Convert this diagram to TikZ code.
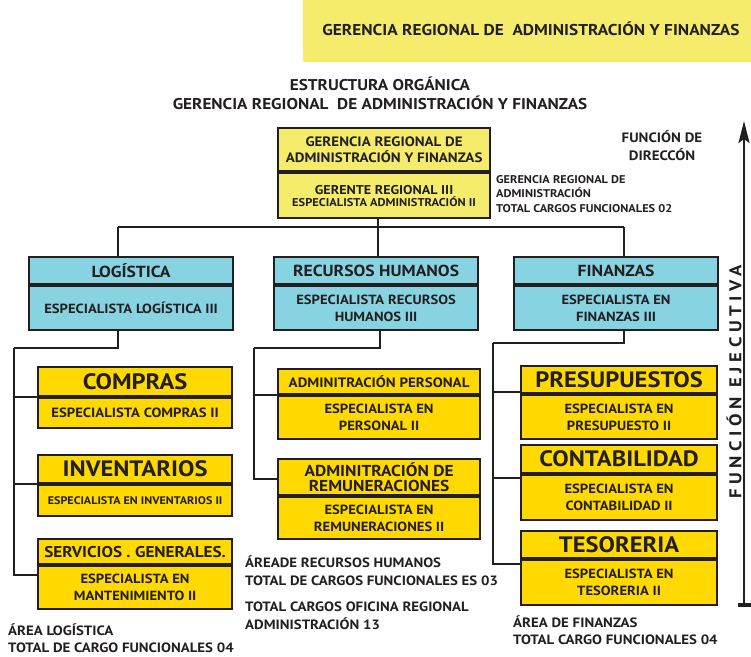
\documentclass[tikz,border=0pt]{standalone}
\usepackage{fontspec}
\setmainfont{PT Sans}[FakeStretch=1.1]
\usetikzlibrary{calc,arrows.meta}
\definecolor{banner}{HTML}{F5EC6C}
\definecolor{sky}{HTML}{88D3E1}
\definecolor{gold}{HTML}{FFD900}
\definecolor{ink}{HTML}{231F20}
\newcommand{\tsz}[2]{\fontsize{#1}{#2}\selectfont}
\tikzset{
  box/.style={draw=ink, line width=2.2pt, inner sep=0pt, anchor=north west,
              align=center, text=ink},
  skybox/.style={box, fill=sky},
  goldbox/.style={box, fill=gold},
  topbox/.style={box, fill=banner},
  conn/.style={draw=ink, line width=1.8pt},
  note/.style={anchor=north west, align=left, inner sep=0pt, text=ink},
}
\begin{document}
\begin{tikzpicture}[x=1pt,y=-1pt]
\useasboundingbox (0,0) rectangle (751,656);

% banner and title
\fill[banner] (303,0) rectangle (751,62);
\node[text=ink, font=\bfseries\tsz{15.7}{17}] (banner) at (531,29)
  {GERENCIA REGIONAL DE \ ADMINISTRACIÓN Y FINANZAS};
\node[text=ink, align=center, font=\bfseries\tsz{15.6}{19}] (title) at (380,93)
  {ESTRUCTURA ORGÁNICA\\GERENCIA REGIONAL \ DE ADMINISTRACIÓN Y FINANZAS};

% head office
\node[topbox, minimum width=212pt, minimum height=43pt, font=\bfseries\tsz{13.6}{16}] (topH) at (277,127)
  {GERENCIA REGIONAL DE\\ADMINISTRACIÓN Y FINANZAS};
\node[topbox, minimum width=212pt, minimum height=45pt] (topB) at (topH.south west)
  {{\bfseries\tsz{12.8}{16}GERENTE REGIONAL III}\\{\bfseries\tsz{11.3}{16}ESPECIALISTA ADMINISTRACIÓN II}};

\node[note, font=\bfseries\tsz{11.2}{14.5}] (headNote) at (496,175)
  {GERENCIA REGIONAL DE\\ADMINISTRACIÓN\\TOTAL CARGOS FUNCIONALES 02};
\node[text=ink, align=center, font=\bfseries\tsz{13.6}{18}] (dirNote) at (662,146)
  {FUNCIÓN DE\\DIRECCÓN};

% areas
\node[skybox, minimum width=204pt, minimum height=27pt, font=\bfseries\tsz{16}{17}] (logH) at (28,256) {LOGÍSTICA};
\node[skybox, minimum width=204pt, minimum height=44pt, font=\bfseries\tsz{13.3}{17}] (logB) at (logH.south west)
  {ESPECIALISTA LOGÍSTICA III};
\node[skybox, minimum width=204pt, minimum height=27pt, font=\bfseries\tsz{16}{17}] (rhH) at (273,256) {RECURSOS HUMANOS};
\node[skybox, minimum width=204pt, minimum height=44pt, font=\bfseries\tsz{13.3}{17}] (rhB) at (rhH.south west)
  {ESPECIALISTA RECURSOS\\HUMANOS III};
\node[skybox, minimum width=204pt, minimum height=27pt, font=\bfseries\tsz{16}{17}] (finH) at (513,256) {FINANZAS};
\node[skybox, minimum width=204pt, minimum height=44pt, font=\bfseries\tsz{13.3}{17}] (finB) at (finH.south west)
  {ESPECIALISTA EN\\FINANZAS III};

% logistics units
\node[goldbox, minimum width=194pt, minimum height=29pt, font=\bfseries\tsz{22.3}{23}] (cmpH) at (37,366) {COMPRAS};
\node[goldbox, minimum width=194pt, minimum height=30pt, font=\bfseries\tsz{13.4}{17}] (cmpB) at (cmpH.south west)
  {ESPECIALISTA COMPRAS II};
\node[goldbox, minimum width=194pt, minimum height=28pt, font=\bfseries\tsz{22.3}{23}] (invH) at (37,454) {INVENTARIOS};
\node[goldbox, minimum width=194pt, minimum height=31pt, font=\bfseries\tsz{11}{14}] (invB) at (invH.south west)
  {ESPECIALISTA EN INVENTARIOS II};
\node[goldbox, minimum width=194pt, minimum height=25pt, font=\bfseries\tsz{15.6}{17}] (srvH) at (37,538) {SERVICIOS . GENERALES.};
\node[goldbox, minimum width=194pt, minimum height=43pt, font=\bfseries\tsz{13.3}{17}] (srvB) at (srvH.south west)
  {ESPECIALISTA EN\\MANTENIMIENTO II};

% human resources units
\node[goldbox, minimum width=202pt, minimum height=25pt, font=\bfseries\tsz{13.6}{15}] (perH) at (277,368) {ADMINITRACIÓN PERSONAL};
\node[goldbox, minimum width=202pt, minimum height=43pt, font=\bfseries\tsz{13.3}{17}] (perB) at (perH.south west)
  {ESPECIALISTA EN\\PERSONAL II};
\node[goldbox, minimum width=202pt, minimum height=36pt, font=\bfseries\tsz{15.8}{15.5}] (remH) at (277,458)
  {ADMINITRACIÓN DE\\REMUNERACIONES};
\node[goldbox, minimum width=202pt, minimum height=42pt, font=\bfseries\tsz{13.3}{17}] (remB) at (remH.south west)
  {ESPECIALISTA EN\\REMUNERACIONES II};

% finance units
\node[goldbox, minimum width=196pt, minimum height=27pt, font=\bfseries\tsz{22.3}{23}] (preH) at (520,365) {PRESUPUESTOS};
\node[goldbox, minimum width=196pt, minimum height=44pt, font=\bfseries\tsz{13.3}{17}] (preB) at (preH.south west)
  {ESPECIALISTA EN\\PRESUPUESTO II};
\node[goldbox, minimum width=196pt, minimum height=28pt, font=\bfseries\tsz{22.3}{23}] (conH) at (520,444) {CONTABILIDAD};
\node[goldbox, minimum width=196pt, minimum height=45pt, font=\bfseries\tsz{13.3}{17}] (conB) at (conH.south west)
  {ESPECIALISTA EN\\CONTABILIDAD II};
\node[goldbox, minimum width=196pt, minimum height=27pt, font=\bfseries\tsz{22.3}{23}] (tesH) at (520,530) {TESORERIA};
\node[goldbox, minimum width=196pt, minimum height=45pt, font=\bfseries\tsz{13.3}{17}] (tesB) at (tesH.south west)
  {ESPECIALISTA EN\\TESORERIA II};

% totals
\node[note, font=\bfseries\tsz{13.5}{17}] (logNote) at (8,624)
  {ÁREA LOGÍSTICA\\TOTAL DE CARGO FUNCIONALES 04};
\node[note, font=\bfseries\tsz{13.5}{18}] (rhNote) at (245,556)
  {ÁREADE RECURSOS HUMANOS\\TOTAL DE CARGOS FUNCIONALES ES 03};
\node[note, font=\bfseries\tsz{13.5}{18}] (totNote) at (245,602)
  {TOTAL CARGOS OFICINA REGIONAL\\ADMINISTRACIÓN 13};
\node[note, font=\bfseries\tsz{13.5}{17}] (finNote) at (513,616)
  {ÁREA DE FINANZAS\\TOTAL CARGO FUNCIONALES 04};

% connectors: head office to areas
\coordinate (busL) at (118,227);
\coordinate (busR) at (624,227);
\draw[conn] (topB.south -| 378,0) -- (rhH.north -| 378,0);
\draw[conn] (busL) -- (busR);
\draw[conn] (busL) -- (busL |- logH.north);
\draw[conn] (busR) -- (busR |- finH.north);

% logistics branch
\coordinate (logDrop) at (118,348);
\coordinate (logSpine) at (14,348);
\draw[conn] (logB.south -| logDrop) -- (logDrop) -- (logSpine);
\draw[conn] (logSpine) |- (cmpH.south west);
\draw[conn] (logSpine) |- (invH.south west);
\draw[conn] (logSpine) |- ($(srvH.south west)+(0,10)$);

% human resources branch
\coordinate (rhDrop) at (380,348);
\coordinate (rhSpine) at (254,348);
\draw[conn] (rhB.south -| rhDrop) -- (rhDrop) -- (rhSpine);
\draw[conn] (rhSpine) |- (perH.south west);
\draw[conn] (rhSpine) |- ($(remH.south west)+(0,-17)$);

% finance branch
\coordinate (finDrop) at (624,343);
\coordinate (finSpine) at (493,343);
\draw[conn] (finB.south -| finDrop) -- (finDrop) -- (finSpine);
\draw[conn] (finSpine) |- ($(preH.south west)+(0,-2)$);
\draw[conn] (finSpine) |- ($(conH.south west)+(0,4)$);
\draw[conn] (finSpine) |- ($(tesH.south west)+(0,5)$);

% function axis
\coordinate (axisBot) at (744,605);
\coordinate (axisTop) at (744,121);
\coordinate (tickL) at (738,605);
\coordinate (tickR) at (751,605);
\draw[ink, line width=2.4pt, -{Stealth[length=22pt,width=11pt,inset=4pt]}] (axisBot) -- (axisTop);
\draw[ink, line width=4pt] (tickL) -- (tickR);
\node[rotate=90, text=ink, font=\bfseries\tsz{17}{18}\addfontfeatures{LetterSpace=27}] (axisLabel) at (734,382)
  {FUNCIÓN EJECUTIVA};
\end{tikzpicture}
\end{document}
